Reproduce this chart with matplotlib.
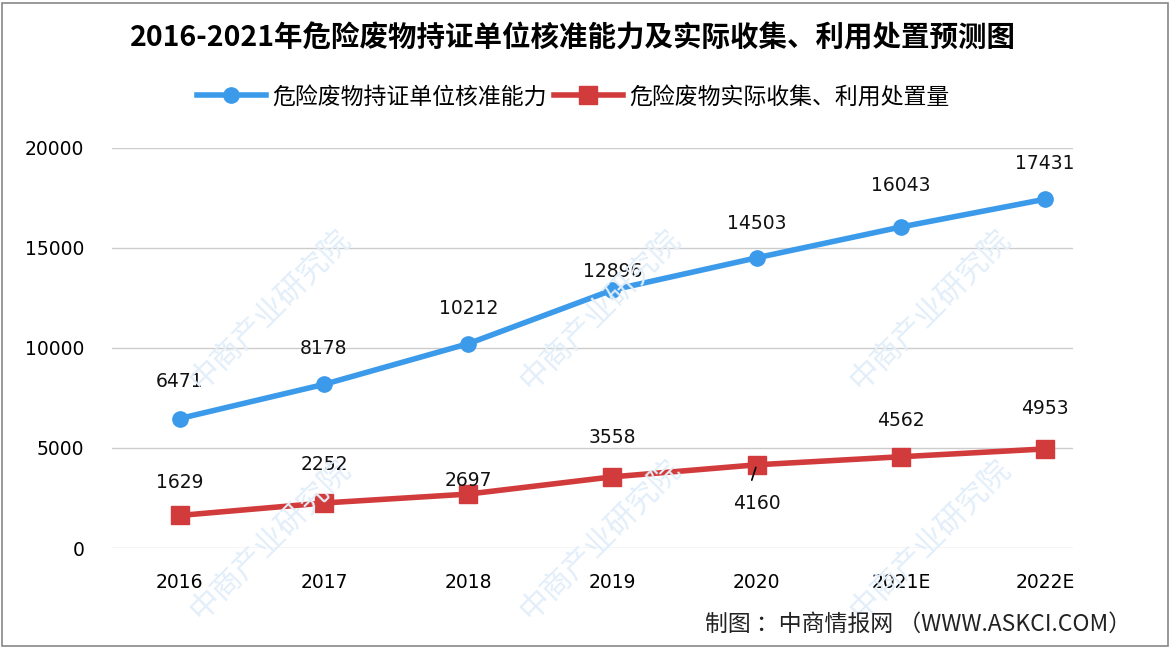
import matplotlib.pyplot as plt
from matplotlib.patches import Rectangle

plt.rcParams['font.family'] = ['Noto Sans CJK SC', 'DejaVu Sans']

years = ['2016', '2017', '2018', '2019', '2020', '2021E', '2022E']
capacity = [6471, 8178, 10212, 12896, 14503, 16043, 17431]
disposal = [1629, 2252, 2697, 3558, 4160, 4562, 4953]

name_cap = '危险废物持证单位核准能力'
name_dis = '危险废物实际收集、利用处置量'
title = '2016-2021年危险废物持证单位核准能力及实际收集、利用处置预测图'
source = '制图 ：中商情报网 （WWW.ASKCI.COM）'

blue = '#3b9aea'
red = '#d23b3b'

fig = plt.figure(figsize=(11.7, 6.54), dpi=100)
ax = fig.add_axes([0.0957, 0.162, 0.821, 0.612])

x = list(range(len(years)))

# faint watermark
for cx in [270, 600, 930]:
    for cy in [310, 540]:
        fig.text(cx / 1170, 1 - cy / 654, '中商产业研究院', rotation=45, fontsize=22,
                 color='#e2eef9', ha='center', va='center', zorder=0)

ax.plot(x, capacity, '-o', color=blue, lw=4, ms=11, label=name_cap, zorder=3)
ax.plot(x, disposal, '-s', color=red, lw=4, ms=13, mec=red, label=name_dis, zorder=3)

# label offsets in points
cap_off = [27, 26, 25, 13, 25, 30, 26]
dis_off = [24, 28, 10, 28, -28, 26, 29]
for i, v in enumerate(capacity):
    ax.annotate(str(v), (i, v), xytext=(0, cap_off[i]), textcoords='offset points',
                ha='center', va='center', fontsize=13.5, family='DejaVu Sans', color='#111111')
for i, v in enumerate(disposal):
    ax.annotate(str(v), (i, v), xytext=(0, dis_off[i]), textcoords='offset points',
                ha='center', va='center', fontsize=13.5, family='DejaVu Sans', color='#111111')
ax.annotate('', (4, disposal[4]), xytext=(4 - 0.04, disposal[4] - 900),
            arrowprops=dict(arrowstyle='-', color='black', lw=1.2))

ax.set_xlim(-0.47, 6.19)
ax.set_ylim(0, 20000)
ax.set_yticks([0, 5000, 10000, 15000, 20000])
ax.set_xticks(x)
ax.set_xticklabels(years)
ax.tick_params(length=0, labelsize=13.5, pad=18)
for lab in ax.get_xticklabels() + ax.get_yticklabels():
    lab.set_family('DejaVu Sans')
ax.tick_params(axis='y', pad=20)
ax.grid(axis='y', color='#cccccc', lw=1)
ax.set_axisbelow(True)
for s in ax.spines.values():
    s.set_visible(False)
ax.patch.set_alpha(0)

fig.text(0.49, 0.942, title, ha='center', va='center', fontsize=20.5, fontweight='bold')
fig.legend(loc='center', bbox_to_anchor=(0.49, 0.852), ncol=2, frameon=False,
           fontsize=16.5, handlelength=3, handletextpad=0.3, columnspacing=0.3)
fig.text(0.967, 0.045, source, ha='right', va='center', fontsize=16.5, color='#222222')

fig.patches.append(Rectangle((0.002, 0.012), 0.996, 0.984, transform=fig.transFigure,
                             fill=False, ec='#888888', lw=1.2))

fig.savefig('out.png', dpi=100)
